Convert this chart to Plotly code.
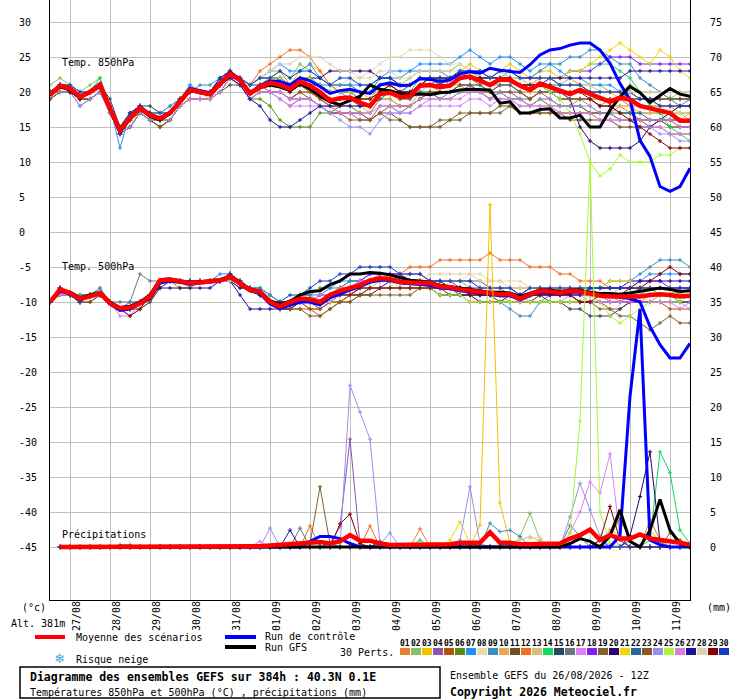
# -*- coding: utf-8 -*-

import pandas as pd
import plotly.graph_objs as go

MONO = "DejaVu Sans Mono"
GRID = "#c0c0c0"

# run 26/08/2026 12Z, 6h steps up to 384h
TIMES = pd.date_range("2026-08-26 12:00", periods=65, freq="6h")

PERT_NAMES = ["%02d" % k for k in range(1, 31)]
PERT_COLORS = ["#e6822e", "#86c065", "#f2c200", "#8a55b0", "#b5520c", "#5a8a10",
               "#1e90ff", "#e8d8b0", "#3c8dc0", "#e8a850", "#6a5220", "#f07020",
               "#d4c07c", "#10d860", "#284860", "#687880", "#e080f8", "#8020f8",
               "#806030", "#300070", "#f0d800", "#2868a0", "#905820", "#9890f0",
               "#a8f838", "#d880d8", "#2010a0", "#e0d0b0", "#880000", "#1040c0"]

# --- Temp. 850hPa ---
MEAN_T850 = [19.6, 20.9, 20.5, 19.3, 20.0, 21.0, 17.7, 14.5, 16.3, 17.7,
             16.7, 16.2, 17.0, 18.6, 20.3, 20.0, 19.7, 21.2, 22.6, 21.7,
             19.8, 20.7, 21.3, 21.0, 20.4, 21.5, 20.9, 20.0, 18.8, 19.1,
             19.2, 18.5, 18.0, 19.7, 19.9, 19.3, 19.4, 20.9, 21.0, 20.7,
             20.9, 22.0, 22.2, 21.6, 21.0, 21.8, 21.7, 20.9, 20.3, 21.2,
             20.7, 20.2, 19.7, 20.3, 19.7, 19.1, 18.6, 19.2, 18.9, 18.0,
             17.7, 17.4, 17.0, 15.9, 15.9]
CTRL_T850 = [19.6, 21.0, 20.6, 19.4, 20.1, 21.2, 17.6, 14.2, 16.4, 17.9,
             16.8, 16.3, 17.1, 18.7, 20.5, 20.2, 19.9, 21.4, 22.8, 21.8,
             19.9, 20.9, 21.6, 21.5, 21.0, 22.0, 21.6, 20.8, 19.8, 20.2,
             20.4, 20.0, 19.8, 21.0, 21.3, 20.9, 21.0, 21.9, 21.8, 21.5,
             21.7, 22.6, 22.9, 22.7, 23.4, 23.1, 23.0, 22.8, 23.9, 25.3,
             26.0, 26.2, 26.7, 27.0, 27.0, 26.0, 24.1, 21.2, 18.9, 13.1,
             10.8, 6.5, 5.8, 6.5, 9.1]
GFS_T850 = [19.5, 20.7, 20.3, 19.2, 19.9, 20.8, 17.5, 14.3, 16.2, 17.6,
            16.5, 16.0, 16.9, 18.5, 20.2, 19.9, 19.6, 21.0, 22.5, 21.6,
            19.7, 20.6, 21.0, 20.7, 20.2, 21.2, 20.4, 19.4, 18.6, 18.2,
            18.8, 19.4, 21.0, 20.4, 20.2, 19.8, 19.6, 19.7, 19.6, 19.9,
            20.0, 20.3, 20.4, 20.3, 20.3, 18.4, 18.6, 17.0, 17.0, 17.5,
            17.6, 16.3, 16.3, 16.7, 15.0, 15.0, 17.4, 19.3, 20.8, 19.9,
            18.5, 19.5, 20.5, 19.7, 19.4]

T850_P01 = [20, 21, 21, 19, 20, 21, 18, 15, 16, 18, 17, 16, 17, 19, 20, 20, 20, 21, 22, 22,
            21, 22, 22, 23, 21, 22, 22, 21, 20, 20, 20, 19, 19, 21, 21, 20, 20, 21, 21, 20,
            20, 21, 20, 20, 19, 20, 19, 19, 18, 19, 19, 18, 18, 19, 18, 17, 17, 18, 17, 16,
            16, 16, 15, 15, 15]
T850_P02 = [21, 22, 21, 20, 21, 22, 18, 15, 17, 18, 17, 17, 18, 19, 21, 20, 20, 21, 23, 22,
            21, 22, 23, 23, 22, 24, 23, 22, 21, 21, 21, 20, 20, 22, 22, 21, 22, 23, 23, 23,
            23, 24, 23, 23, 22, 23, 23, 22, 22, 22, 22, 21, 22, 21, 21, 21, 20, 20, 21, 20,
            20, 20, 19, 20, 20]
T850_P03 = [20, 21, 20, 19, 20, 21, 18, 14, 16, 17, 16, 16, 17, 18, 20, 20, 19, 21, 23, 22,
            20, 21, 22, 22, 21, 23, 24, 23, 21, 20, 20, 20, 19, 20, 21, 20, 19, 21, 22, 21,
            22, 23, 24, 23, 22, 23, 24, 23, 22, 23, 23, 22, 22, 21, 21, 20, 20, 19, 20, 19,
            19, 18, 18, 17, 16]
T850_P04 = [19, 20, 20, 18, 19, 20, 17, 14, 15, 17, 16, 15, 16, 18, 19, 19, 19, 21, 22, 21,
            19, 20, 20, 19, 18, 19, 19, 18, 17, 17, 17, 17, 16, 18, 18, 17, 18, 19, 20, 19,
            20, 20, 21, 20, 19, 20, 20, 19, 19, 20, 19, 18, 18, 18, 17, 17, 17, 16, 16, 16,
            16, 16, 16, 16, 16]
T850_P05 = [20, 21, 21, 20, 20, 21, 18, 15, 16, 18, 17, 16, 17, 19, 20, 20, 20, 21, 22, 22,
            20, 21, 21, 22, 21, 21, 20, 19, 18, 18, 19, 18, 18, 20, 20, 19, 20, 21, 21, 22,
            21, 22, 22, 21, 20, 21, 21, 20, 19, 20, 20, 19, 19, 19, 19, 18, 18, 17, 17, 16,
            15, 15, 14, 14, 14]
T850_P06 = [20, 21, 20, 19, 19, 20, 18, 15, 16, 17, 16, 15, 16, 18, 19, 19, 19, 20, 22, 21,
            19, 19, 18, 16, 15, 15, 15, 17, 17, 18, 18, 17, 17, 19, 19, 18, 18, 19, 20, 19,
            19, 20, 20, 20, 19, 20, 19, 19, 18, 19, 18, 18, 18, 18, 17, 17, 17, 17, 17, 17,
            17, 17, 17, 17, 17]
T850_P07 = [20, 21, 21, 20, 20, 21, 18, 12, 17, 18, 17, 17, 18, 19, 21, 20, 20, 22, 23, 22,
            21, 22, 23, 24, 23, 23, 24, 22, 21, 21, 21, 20, 20, 22, 23, 23, 23, 24, 24, 24,
            24, 25, 26, 25, 24, 25, 25, 24, 23, 24, 24, 23, 22, 22, 21, 21, 21, 20, 20, 19,
            19, 18, 18, 18, 18]
T850_P08 = [20, 20, 20, 19, 20, 21, 18, 14, 16, 18, 17, 17, 17, 19, 20, 20, 20, 21, 23, 22,
            20, 21, 22, 22, 21, 22, 22, 21, 20, 21, 22, 22, 23, 24, 25, 25, 26, 26, 26, 25,
            24, 24, 23, 22, 21, 22, 22, 21, 20, 21, 21, 20, 20, 20, 20, 19, 19, 19, 19, 18,
            18, 18, 17, 17, 17]
T850_P09 = [20, 21, 20, 19, 20, 21, 18, 14, 16, 18, 17, 16, 17, 19, 20, 21, 21, 22, 23, 22,
            21, 22, 22, 22, 21, 22, 22, 21, 21, 21, 21, 21, 21, 22, 22, 22, 23, 23, 23, 23,
            22, 23, 23, 23, 22, 23, 22, 22, 22, 23, 24, 24, 25, 25, 26, 26, 25, 24, 24, 22,
            21, 20, 19, 19, 19]
T850_P10 = [20, 20, 20, 19, 19, 20, 17, 14, 15, 17, 16, 16, 16, 18, 19, 19, 19, 20, 22, 21,
            19, 20, 20, 20, 19, 20, 20, 19, 18, 18, 18, 18, 17, 19, 19, 18, 18, 20, 20, 20,
            20, 21, 21, 21, 20, 21, 21, 20, 19, 20, 20, 19, 19, 19, 19, 18, 18, 18, 18, 17,
            17, 17, 17, 16, 17]
T850_P11 = [19, 20, 20, 19, 19, 20, 17, 14, 15, 17, 16, 15, 16, 18, 19, 19, 19, 20, 21, 21,
            19, 20, 20, 20, 19, 20, 19, 18, 17, 17, 17, 16, 16, 17, 17, 16, 15, 15, 15, 15,
            16, 16, 17, 17, 17, 18, 18, 17, 17, 17, 17, 17, 16, 16, 16, 16, 16, 15, 15, 15,
            15, 16, 15, 15, 15]
T850_P12 = [20, 21, 21, 20, 20, 21, 18, 15, 17, 18, 17, 17, 17, 19, 20, 20, 20, 21, 23, 22,
            21, 23, 24, 25, 26, 26, 25, 23, 21, 20, 20, 19, 19, 20, 20, 20, 20, 21, 22, 21,
            21, 22, 22, 22, 21, 21, 21, 20, 20, 20, 20, 19, 19, 19, 19, 18, 19, 19, 18, 18,
            18, 18, 18, 18, 18]
T850_P13 = [20, 21, 20, 19, 20, 21, 18, 14, 16, 18, 17, 16, 17, 19, 20, 20, 20, 21, 22, 22,
            20, 21, 21, 21, 20, 21, 21, 20, 19, 19, 19, 18, 18, 20, 20, 19, 19, 20, 21, 21,
            21, 21, 21, 21, 20, 21, 21, 20, 20, 20, 20, 19, 19, 19, 19, 18, 18, 18, 18, 17,
            17, 17, 16, 16, 16]
T850_P14 = [20, 21, 21, 20, 20, 22, 18, 15, 16, 18, 17, 17, 17, 19, 20, 20, 20, 21, 23, 22,
            20, 21, 22, 22, 21, 22, 22, 21, 20, 20, 20, 19, 19, 21, 21, 20, 20, 22, 22, 22,
            22, 23, 23, 22, 22, 22, 23, 22, 21, 22, 22, 22, 23, 23, 24, 24, 24, 23, 22, 20,
            18, 17, 15, 14, 13]
T850_P15 = [20, 21, 21, 20, 20, 21, 19, 15, 17, 18, 18, 17, 17, 19, 20, 20, 20, 22, 23, 22,
            21, 21, 22, 22, 21, 21, 22, 21, 20, 20, 20, 19, 19, 20, 21, 20, 21, 22, 22, 21,
            22, 22, 22, 22, 22, 22, 22, 21, 21, 22, 22, 21, 21, 21, 20, 20, 20, 20, 20, 19,
            19, 19, 19, 19, 19]
T850_P16 = [20, 21, 20, 19, 20, 21, 18, 14, 16, 18, 17, 16, 17, 19, 20, 20, 20, 21, 22, 22,
            20, 21, 22, 22, 21, 21, 22, 21, 20, 20, 19, 19, 19, 21, 21, 20, 20, 21, 22, 22,
            22, 22, 22, 22, 21, 22, 22, 21, 21, 21, 21, 21, 21, 21, 20, 20, 20, 20, 20, 19,
            19, 19, 19, 18, 19]
T850_P17 = [20, 21, 20, 19, 20, 21, 18, 14, 16, 18, 17, 16, 17, 18, 19, 19, 19, 20, 22, 21,
            19, 20, 20, 19, 18, 18, 18, 18, 17, 17, 17, 16, 16, 17, 17, 17, 17, 18, 18, 18,
            18, 18, 19, 19, 18, 19, 19, 18, 18, 18, 18, 17, 17, 17, 17, 16, 16, 16, 16, 15,
            15, 15, 14, 14, 14]
T850_P18 = [20, 21, 20, 19, 20, 21, 18, 14, 16, 18, 17, 16, 17, 19, 20, 20, 20, 21, 23, 22,
            20, 21, 21, 22, 21, 21, 21, 21, 20, 20, 20, 19, 19, 21, 21, 21, 21, 22, 22, 22,
            22, 22, 23, 23, 22, 23, 23, 22, 22, 22, 22, 22, 23, 23, 23, 24, 25, 25, 25, 24,
            24, 24, 24, 24, 24]
T850_P19 = [20, 20, 20, 19, 19, 20, 17, 14, 15, 17, 16, 15, 16, 18, 19, 19, 19, 20, 22, 21,
            19, 20, 20, 20, 19, 19, 19, 18, 17, 17, 17, 17, 16, 17, 16, 16, 15, 15, 15, 16,
            16, 17, 17, 17, 17, 17, 18, 17, 17, 17, 17, 17, 17, 17, 17, 17, 17, 16, 16, 16,
            16, 16, 16, 16, 16]
T850_P20 = [20, 21, 20, 19, 20, 21, 18, 14, 16, 18, 17, 16, 17, 19, 20, 20, 20, 21, 22, 22,
            20, 21, 21, 21, 21, 22, 22, 22, 23, 23, 23, 23, 23, 22, 22, 21, 21, 22, 22, 22,
            22, 23, 23, 22, 22, 22, 22, 21, 21, 21, 20, 20, 19, 15, 13, 12, 12, 12, 12, 13,
            15, 16, 17, 18, 18]
T850_P21 = [20, 21, 20, 19, 20, 21, 18, 14, 16, 18, 17, 16, 17, 19, 20, 20, 20, 21, 23, 22,
            20, 21, 21, 21, 20, 21, 21, 20, 19, 19, 19, 18, 18, 20, 20, 19, 19, 21, 21, 21,
            21, 22, 23, 22, 21, 22, 22, 22, 21, 22, 22, 22, 23, 23, 24, 25, 26, 27, 26, 25,
            24, 26, 25, 23, 22]
T850_P22 = [20, 21, 20, 19, 20, 21, 18, 14, 16, 18, 17, 16, 17, 19, 20, 20, 20, 21, 22, 22,
            20, 21, 21, 21, 20, 21, 21, 20, 19, 19, 19, 18, 18, 19, 20, 19, 19, 20, 20, 20,
            20, 21, 21, 21, 20, 21, 21, 20, 19, 20, 20, 19, 19, 19, 19, 18, 18, 17, 17, 17,
            16, 16, 16, 15, 15]
T850_P23 = [19, 20, 20, 19, 19, 20, 17, 14, 15, 17, 16, 16, 16, 18, 19, 19, 19, 20, 22, 21,
            20, 21, 20, 20, 19, 20, 20, 19, 18, 17, 16, 16, 16, 17, 18, 18, 18, 19, 20, 20,
            20, 21, 21, 20, 20, 20, 20, 20, 19, 20, 20, 19, 19, 19, 19, 19, 19, 19, 19, 19,
            19, 19, 19, 19, 19]
T850_P24 = [20, 20, 20, 18, 19, 20, 17, 14, 15, 17, 16, 16, 16, 18, 19, 19, 19, 20, 22, 21,
            19, 20, 20, 20, 19, 19, 19, 18, 17, 16, 15, 15, 14, 16, 17, 17, 17, 18, 19, 19,
            19, 20, 20, 20, 19, 20, 19, 19, 18, 19, 19, 18, 18, 18, 18, 17, 17, 16, 16, 15,
            15, 14, 14, 13, 13]
T850_P25 = [20, 21, 21, 20, 20, 21, 18, 15, 16, 18, 17, 17, 17, 19, 20, 20, 20, 21, 23, 22,
            20, 21, 22, 22, 21, 22, 22, 21, 20, 20, 20, 19, 19, 21, 21, 21, 21, 22, 22, 22,
            22, 22, 23, 22, 21, 22, 22, 21, 21, 21, 20, 19, 17, 14, 10, 8, 9, 11, 10, 10,
            10, 11, 11, 12, 12]
T850_P26 = [20, 21, 20, 19, 20, 21, 18, 14, 16, 18, 17, 16, 17, 18, 19, 19, 19, 20, 22, 21,
            19, 20, 20, 20, 19, 19, 19, 18, 18, 17, 17, 17, 17, 18, 18, 18, 18, 19, 19, 19,
            19, 19, 20, 20, 19, 19, 19, 18, 18, 18, 18, 17, 17, 17, 17, 16, 16, 16, 16, 16,
            16, 16, 16, 15, 15]
T850_P27 = [20, 21, 20, 19, 20, 21, 18, 14, 16, 18, 17, 16, 17, 19, 20, 20, 20, 21, 22, 21,
            19, 18, 16, 15, 15, 16, 17, 18, 18, 18, 18, 18, 18, 20, 20, 20, 20, 21, 21, 21,
            21, 22, 22, 22, 21, 22, 22, 21, 21, 21, 22, 22, 22, 22, 22, 22, 22, 22, 23, 23,
            23, 23, 23, 23, 23]
T850_P28 = [20, 21, 21, 20, 20, 21, 18, 15, 16, 18, 17, 17, 17, 19, 20, 20, 20, 21, 23, 22,
            21, 22, 23, 24, 24, 25, 25, 25, 24, 23, 23, 22, 22, 23, 23, 22, 22, 23, 23, 23,
            23, 23, 23, 23, 22, 23, 22, 22, 21, 22, 22, 21, 21, 21, 21, 20, 20, 20, 20, 20,
            20, 20, 20, 20, 20]
T850_P29 = [20, 21, 20, 19, 20, 21, 18, 15, 16, 18, 17, 16, 17, 19, 20, 20, 20, 21, 23, 22,
            20, 21, 21, 21, 20, 21, 21, 20, 19, 19, 19, 19, 19, 20, 21, 20, 20, 21, 22, 22,
            22, 22, 22, 22, 21, 22, 22, 21, 21, 21, 21, 20, 20, 20, 19, 18, 18, 17, 16, 15,
            14, 13, 12, 12, 12]
T850_P30 = [20, 21, 21, 20, 20, 21, 18, 15, 17, 18, 17, 17, 17, 19, 20, 20, 20, 22, 23, 22,
            21, 22, 22, 23, 22, 23, 23, 22, 21, 22, 22, 21, 21, 22, 22, 21, 21, 22, 22, 22,
            22, 23, 23, 23, 22, 23, 23, 22, 22, 22, 22, 21, 21, 21, 20, 20, 20, 20, 19, 19,
            19, 18, 18, 18, 18]

# --- Temp. 500hPa ---
MEAN_T500 = [-10.0, -8.2, -8.7, -9.5, -9.2, -8.7, -10.2, -10.9, -10.8, -10.2,
             -9.2, -6.9, -6.8, -7.0, -7.3, -7.2, -7.0, -6.9, -6.4, -7.3,
             -8.3, -8.5, -10.0, -10.6, -10.1, -9.5, -9.6, -10.0, -9.0, -8.4,
             -8.0, -7.6, -6.9, -6.6, -6.7, -7.1, -7.2, -7.2, -7.3, -7.8,
             -7.9, -8.2, -8.4, -8.5, -8.8, -8.9, -8.9, -9.5, -8.9, -8.4,
             -8.5, -8.7, -8.4, -8.5, -8.8, -9.1, -9.2, -9.2, -9.2, -9.2,
             -9.0, -8.9, -9.0, -9.2, -9.1]
CTRL_T500 = [-10.0, -8.5, -8.8, -9.6, -9.3, -8.8, -10.3, -11.2, -11.0, -10.3,
             -9.5, -7.3, -7.0, -7.2, -7.5, -7.3, -7.1, -7.0, -6.5, -7.4,
             -8.4, -8.8, -10.3, -10.9, -10.5, -10.0, -10.0, -10.4, -9.4, -8.8,
             -8.3, -7.8, -7.2, -6.9, -6.9, -7.3, -7.4, -7.5, -7.6, -8.0,
             -8.1, -8.4, -8.6, -8.8, -9.0, -9.1, -9.1, -9.7, -9.1, -8.6,
             -8.7, -8.9, -8.6, -8.6, -8.8, -9.0, -9.2, -9.4, -9.5, -10.0,
             -13.5, -16.1, -18.0, -18.0, -15.9]
GFS_T500 = [-10.0, -8.3, -8.6, -9.4, -9.0, -8.6, -10.0, -10.8, -10.6, -10.0,
            -9.0, -6.8, -6.7, -6.9, -7.2, -7.1, -6.9, -6.8, -6.3, -7.2,
            -8.2, -8.4, -9.8, -10.3, -9.9, -9.0, -8.5, -8.4, -7.5, -7.0,
            -6.0, -6.0, -5.8, -5.9, -6.1, -6.5, -6.9, -7.0, -7.2, -7.6,
            -7.8, -8.0, -8.2, -8.3, -8.6, -8.6, -8.7, -9.2, -8.8, -8.3,
            -8.3, -8.5, -8.3, -8.3, -8.6, -8.8, -8.8, -8.9, -8.7, -8.5,
            -8.2, -8.0, -8.2, -8.5, -8.4]

T500_P01 = [-10, -8, -9, -10, -9, -9, -10, -11, -11, -10, -9, -7, -7, -7, -7, -7, -7, -7, -6, -7,
            -8, -9, -10, -11, -10, -10, -10, -9, -9, -8, -8, -7, -7, -7, -6, -6, -7, -7, -7, -8,
            -8, -8, -8, -9, -9, -9, -9, -10, -9, -9, -9, -9, -9, -9, -9, -9, -9, -9, -9, -10,
            -10, -9, -9, -9, -8]
T500_P02 = [-10, -8, -9, -9, -9, -8, -10, -11, -10, -10, -9, -7, -7, -8, -8, -7, -7, -7, -7, -8,
            -8, -8, -9, -10, -10, -9, -9, -10, -9, -8, -8, -8, -7, -6, -6, -7, -7, -7, -7, -7,
            -8, -8, -9, -9, -9, -9, -10, -10, -10, -9, -9, -9, -9, -10, -10, -9, -9, -10, -10, -10,
            -9, -9, -9, -10, -10]
T500_P03 = [-10, -8, -9, -10, -9, -8, -10, -11, -11, -10, -9, -7, -7, -8, -8, -7, -7, -7, -6, -7,
            -8, -9, -10, -11, -11, -10, -10, -10, -9, -9, -9, -8, -8, -7, -7, -7, -6, -6, -7, -7,
            -8, -8, -8, -8, -8, -9, -9, -9, -9, -8, -8, -8, -8, -8, -9, -9, -9, -8, -8, -8,
            -8, -8, -8, -9, -9]
T500_P04 = [-10, -8, -9, -10, -9, -9, -10, -11, -11, -10, -9, -7, -7, -7, -7, -7, -7, -7, -6, -7,
            -8, -9, -10, -11, -10, -10, -10, -10, -9, -8, -7, -7, -6, -6, -6, -6, -6, -6, -7, -7,
            -7, -7, -7, -7, -8, -8, -8, -8, -8, -8, -8, -8, -8, -8, -8, -8, -8, -8, -8, -8,
            -8, -8, -8, -8, -8]
T500_P05 = [-10, -9, -9, -10, -10, -9, -10, -11, -11, -11, -10, -8, -7, -8, -8, -7, -7, -7, -7, -7,
            -8, -9, -10, -11, -11, -11, -11, -12, -11, -10, -10, -9, -9, -8, -8, -8, -8, -8, -8, -9,
            -9, -9, -10, -10, -10, -10, -10, -10, -10, -10, -10, -10, -10, -10, -10, -10, -11, -11, -10, -10,
            -10, -10, -11, -11, -11]
T500_P06 = [-10, -8, -9, -9, -9, -9, -10, -11, -11, -10, -9, -7, -7, -7, -7, -7, -7, -7, -6, -7,
            -8, -8, -9, -10, -10, -9, -9, -8, -8, -8, -7, -7, -7, -6, -6, -6, -7, -7, -7, -8,
            -8, -8, -8, -8, -8, -8, -9, -9, -9, -9, -9, -8, -8, -8, -8, -9, -9, -9, -9, -9,
            -9, -9, -9, -8, -8]
T500_P07 = [-10, -8, -9, -9, -9, -8, -10, -11, -10, -10, -9, -7, -7, -7, -7, -7, -7, -6, -6, -7,
            -8, -8, -9, -10, -10, -9, -9, -9, -8, -7, -7, -7, -6, -6, -6, -7, -7, -7, -7, -7,
            -7, -7, -8, -8, -8, -8, -8, -9, -9, -8, -8, -8, -8, -8, -8, -8, -7, -7, -7, -7,
            -6, -6, -6, -6, -6]
T500_P08 = [-10, -8, -9, -10, -9, -9, -10, -11, -11, -10, -9, -7, -7, -7, -7, -7, -7, -7, -7, -7,
            -8, -9, -10, -10, -10, -10, -10, -10, -9, -9, -9, -8, -8, -8, -7, -7, -7, -7, -7, -7,
            -7, -7, -6, -6, -7, -7, -7, -7, -8, -8, -8, -8, -8, -8, -8, -8, -9, -9, -9, -9,
            -9, -9, -9, -9, -9]
T500_P09 = [-10, -8, -9, -10, -9, -9, -10, -11, -11, -10, -9, -7, -7, -7, -8, -7, -7, -7, -6, -7,
            -8, -9, -10, -10, -10, -10, -10, -10, -9, -8, -8, -8, -7, -7, -7, -7, -7, -7, -7, -8,
            -8, -8, -9, -9, -9, -10, -11, -12, -12, -10, -9, -9, -9, -9, -8, -8, -8, -8, -7, -6,
            -5, -4, -4, -4, -5]
T500_P10 = [-10, -8, -9, -10, -9, -9, -10, -11, -11, -10, -9, -7, -7, -7, -7, -7, -7, -7, -6, -7,
            -8, -9, -10, -11, -11, -10, -10, -10, -10, -10, -9, -9, -8, -8, -8, -8, -8, -8, -8, -8,
            -8, -8, -9, -9, -9, -9, -9, -9, -9, -9, -9, -9, -9, -9, -9, -9, -9, -10, -10, -10,
            -9, -9, -9, -9, -9]
T500_P11 = [-10, -9, -9, -10, -10, -9, -10, -11, -11, -11, -10, -8, -7, -7, -7, -7, -7, -7, -7, -7,
            -8, -9, -10, -11, -11, -10, -10, -11, -10, -9, -9, -9, -9, -8, -8, -8, -8, -8, -8, -8,
            -9, -9, -9, -9, -9, -9, -9, -10, -10, -9, -9, -9, -9, -9, -9, -9, -10, -10, -9, -9,
            -9, -9, -9, -9, -9]
T500_P12 = [-10, -8, -9, -10, -9, -9, -10, -11, -11, -10, -9, -7, -7, -7, -7, -7, -7, -7, -6, -7,
            -8, -9, -10, -11, -11, -10, -11, -11, -10, -10, -9, -8, -7, -7, -6, -6, -5, -5, -5, -4,
            -4, -4, -4, -4, -3, -4, -4, -4, -5, -5, -5, -6, -6, -7, -7, -7, -8, -8, -8, -8,
            -8, -8, -8, -8, -8]
T500_P13 = [-10, -8, -9, -10, -9, -9, -10, -11, -11, -10, -9, -7, -7, -7, -8, -7, -7, -7, -7, -7,
            -8, -9, -10, -10, -10, -10, -10, -10, -9, -9, -9, -9, -8, -8, -8, -8, -8, -8, -8, -8,
            -9, -9, -9, -9, -9, -9, -9, -10, -9, -9, -9, -9, -9, -9, -9, -10, -10, -10, -10, -9,
            -9, -9, -9, -10, -10]
T500_P14 = [-10, -8, -9, -9, -9, -9, -10, -11, -11, -10, -9, -7, -7, -7, -7, -7, -7, -7, -6, -7,
            -8, -9, -10, -10, -10, -10, -10, -10, -9, -8, -8, -8, -7, -7, -7, -7, -7, -7, -7, -8,
            -8, -8, -8, -9, -9, -9, -9, -9, -9, -8, -8, -8, -8, -8, -9, -9, -9, -9, -9, -8,
            -8, -9, -9, -10, -10]
T500_P15 = [-10, -8, -9, -10, -9, -9, -10, -11, -11, -10, -9, -7, -7, -7, -7, -7, -7, -7, -6, -7,
            -8, -9, -10, -10, -10, -10, -10, -10, -9, -8, -8, -7, -7, -7, -7, -7, -7, -7, -8, -8,
            -8, -9, -9, -9, -9, -9, -9, -9, -9, -9, -10, -10, -11, -11, -12, -12, -12, -11, -10, -9,
            -9, -9, -9, -9, -9]
T500_P16 = [-10, -8, -9, -10, -9, -9, -10, -10, -10, -6, -7, -7, -7, -7, -7, -7, -7, -7, -6, -7,
            -8, -9, -10, -10, -10, -10, -10, -10, -9, -8, -8, -7, -7, -7, -7, -7, -7, -7, -7, -8,
            -8, -8, -8, -9, -9, -9, -9, -9, -8, -8, -8, -8, -8, -8, -8, -9, -9, -9, -9, -9,
            -8, -8, -8, -8, -8]
T500_P17 = [-10, -9, -9, -10, -9, -9, -10, -12, -12, -11, -9, -7, -7, -7, -7, -7, -7, -7, -7, -7,
            -8, -9, -10, -11, -10, -10, -10, -10, -9, -8, -8, -7, -7, -6, -6, -7, -7, -7, -7, -8,
            -8, -8, -9, -9, -9, -9, -9, -9, -10, -10, -10, -10, -9, -9, -9, -9, -10, -10, -10, -10,
            -10, -10, -10, -10, -11]
T500_P18 = [-10, -8, -9, -10, -9, -9, -10, -11, -11, -10, -9, -7, -7, -7, -7, -7, -7, -7, -6, -7,
            -8, -9, -10, -10, -10, -10, -10, -9, -9, -8, -8, -7, -6, -6, -6, -6, -7, -7, -7, -7,
            -7, -8, -8, -8, -8, -8, -8, -9, -8, -8, -8, -8, -8, -8, -8, -8, -8, -8, -7, -7,
            -7, -7, -8, -8, -8]
T500_P19 = [-10, -8, -9, -10, -9, -9, -10, -11, -11, -10, -9, -7, -7, -7, -7, -7, -7, -7, -6, -7,
            -8, -9, -10, -11, -11, -11, -12, -12, -11, -10, -10, -9, -9, -9, -9, -9, -9, -8, -8, -8,
            -9, -9, -9, -9, -9, -10, -10, -10, -10, -10, -10, -10, -10, -10, -10, -11, -11, -12, -12, -13,
            -14, -13, -12, -13, -13]
T500_P20 = [-10, -8, -9, -10, -9, -9, -10, -11, -11, -10, -9, -7, -7, -7, -7, -7, -7, -7, -7, -8,
            -8, -9, -10, -11, -11, -10, -10, -10, -10, -9, -9, -9, -8, -8, -8, -8, -8, -8, -8, -9,
            -9, -9, -9, -10, -10, -10, -9, -9, -9, -9, -9, -9, -9, -10, -10, -10, -10, -10, -10, -10,
            -10, -10, -10, -10, -10]
T500_P21 = [-10, -8, -9, -10, -9, -9, -10, -11, -11, -10, -9, -7, -7, -8, -8, -7, -7, -7, -7, -7,
            -8, -9, -10, -10, -10, -10, -10, -10, -9, -9, -8, -8, -7, -7, -7, -7, -7, -7, -7, -7,
            -7, -7, -8, -8, -8, -8, -8, -8, -8, -8, -8, -8, -8, -8, -8, -8, -7, -7, -7, -8,
            -8, -8, -8, -9, -9]
T500_P22 = [-10, -8, -9, -10, -9, -9, -10, -11, -11, -10, -9, -7, -7, -7, -7, -7, -7, -7, -6, -7,
            -8, -9, -10, -10, -10, -10, -10, -10, -9, -9, -8, -8, -7, -7, -7, -7, -7, -7, -8, -8,
            -8, -8, -8, -9, -9, -9, -9, -9, -9, -8, -8, -9, -9, -9, -9, -9, -9, -9, -9, -9,
            -9, -9, -9, -9, -9]
T500_P23 = [-10, -8, -9, -10, -9, -9, -10, -11, -11, -10, -9, -7, -7, -7, -7, -7, -7, -7, -6, -7,
            -8, -9, -10, -11, -11, -10, -11, -11, -10, -10, -9, -9, -8, -8, -8, -8, -8, -8, -8, -8,
            -8, -8, -9, -9, -9, -9, -9, -9, -9, -9, -9, -9, -9, -9, -9, -9, -9, -9, -9, -8,
            -8, -8, -8, -9, -9]
T500_P24 = [-10, -8, -9, -10, -9, -9, -10, -11, -11, -10, -9, -7, -7, -7, -7, -7, -7, -7, -7, -7,
            -8, -9, -10, -10, -10, -10, -10, -10, -9, -8, -8, -8, -7, -7, -7, -7, -7, -7, -8, -8,
            -8, -8, -8, -8, -9, -9, -9, -9, -9, -9, -9, -9, -9, -9, -9, -10, -10, -10, -9, -9,
            -9, -9, -9, -9, -9]
T500_P25 = [-10, -8, -9, -10, -9, -9, -10, -11, -11, -10, -9, -7, -7, -7, -7, -7, -7, -7, -6, -7,
            -8, -9, -10, -11, -10, -10, -10, -10, -9, -9, -9, -8, -8, -7, -7, -8, -8, -8, -8, -9,
            -9, -9, -10, -10, -10, -10, -10, -10, -10, -10, -10, -10, -10, -10, -9, -10, -12, -13, -12, -11,
            -10, -10, -10, -10, -9]
T500_P26 = [-10, -8, -9, -10, -9, -9, -10, -11, -12, -10, -9, -7, -7, -7, -7, -7, -7, -7, -6, -7,
            -8, -9, -10, -10, -10, -10, -10, -9, -9, -8, -8, -7, -7, -7, -7, -7, -7, -7, -7, -8,
            -8, -8, -8, -8, -8, -9, -9, -10, -9, -9, -9, -9, -9, -9, -10, -10, -10, -10, -10, -10,
            -10, -10, -10, -11, -10]
T500_P27 = [-10, -8, -9, -10, -9, -9, -10, -11, -11, -10, -9, -8, -8, -8, -8, -8, -8, -7, -7, -9,
            -11, -11, -11, -11, -10, -10, -10, -10, -9, -9, -9, -8, -8, -8, -7, -7, -7, -7, -7, -7,
            -8, -8, -8, -9, -9, -9, -9, -9, -9, -9, -9, -9, -9, -9, -8, -8, -8, -8, -8, -7,
            -7, -7, -7, -7, -7]
T500_P28 = [-10, -8, -9, -10, -9, -9, -10, -11, -11, -10, -9, -7, -7, -7, -7, -7, -7, -7, -7, -7,
            -8, -9, -10, -10, -10, -10, -10, -10, -10, -9, -9, -8, -8, -8, -8, -8, -7, -7, -6, -6,
            -6, -6, -6, -7, -7, -7, -8, -8, -8, -8, -8, -8, -8, -8, -9, -9, -9, -9, -9, -9,
            -9, -9, -9, -9, -9]
T500_P29 = [-10, -8, -9, -10, -9, -9, -10, -11, -12, -11, -9, -7, -7, -7, -7, -7, -7, -7, -6, -7,
            -8, -9, -10, -10, -10, -10, -10, -10, -9, -9, -9, -8, -8, -8, -8, -8, -8, -8, -8, -8,
            -8, -8, -9, -9, -9, -9, -9, -9, -9, -9, -9, -9, -9, -10, -10, -9, -9, -9, -8, -8,
            -7, -6, -5, -6, -6]
T500_P30 = [-10, -8, -9, -10, -9, -9, -10, -11, -11, -10, -9, -7, -7, -7, -7, -7, -7, -7, -6, -7,
            -8, -9, -10, -10, -9, -9, -8, -7, -7, -6, -6, -5, -5, -5, -5, -6, -6, -6, -7, -7,
            -7, -7, -7, -8, -8, -8, -8, -9, -8, -8, -8, -8, -8, -8, -8, -8, -8, -8, -8, -8,
            -8, -8, -8, -8, -8]

# --- Précipitations (mm / 6h), first step has no value ---
MEAN_RR = [None, 0, 0, 0, 0, 0, 0.1, 0.1, 0, 0,
           0, 0, 0, 0, 0, 0, 0, 0, 0, 0,
           0, 0.1, 0.2, 0.3, 0.3, 0.4, 0.6, 0.7, 0.5, 0.8,
           1.7, 0.9, 0.9, 0.5, 0.3, 0.3, 0.3, 0.4, 0.3, 0.3,
           0.4, 0.6, 0.6, 0.6, 2.1, 0.6, 0.6, 0.4, 0.4, 0.4,
           0.4, 0.5, 1.2, 1.7, 2.5, 1.0, 1.7, 1.2, 1.2, 1.8,
           1.2, 1.0, 0.9, 0.6, 0.3]
# only the steps where rain was drawn, everything else is 0 mm
CTRL_RR = {26: 0.8, 27: 1.5, 28: 1.5, 29: 1.2, 30: 0.5, 57: 1.6, 58: 21.5, 59: 34.0, 60: 1.0, 61: 0.3}
GFS_RR = {52: 0.5, 53: 1.2, 54: 0.8, 56: 1.6, 57: 5.3, 58: 0.8, 60: 2.4, 61: 6.8, 62: 2.4, 63: 0.5}
RR_P01 = {37: 2.6, 60: 3.9, 61: 1.0}
RR_P02 = {47: 1.5, 48: 4.8, 49: 1.0}
RR_P03 = {43: 3.1, 44: 48.9, 45: 6.3, 46: 0.5}
RR_P04 = {28: 0.5, 29: 2.9, 30: 15.4, 31: 0.3}
RR_P05 = {62: 2.0, 63: 1.0}
RR_P06 = {7: 0.3, 8: 0.3}
RR_P07 = {}
RR_P08 = {48: 1.2, 49: 1.4}
RR_P09 = {44: 3.4, 45: 2.2, 46: 2.4, 47: 1.5}
RR_P10 = {56: 2.5, 57: 1.6}
RR_P11 = {}
RR_P12 = {26: 3.0, 32: 3.0}
RR_P13 = {47: 1.0, 48: 1.5, 49: 0.8}
RR_P14 = {37: 1.0, 60: 1.0, 61: 13.6, 62: 10.6, 63: 2.4, 64: 0.5}
RR_P15 = {58: 1.0}
RR_P16 = {25: 2.7, 52: 3.1, 53: 1.5}
RR_P17 = {52: 2.0, 53: 5.0, 54: 9.3, 55: 7.7, 56: 13.3, 57: 1.5}
RR_P18 = {55: 1.0}
RR_P19 = {26: 0.5, 27: 8.6, 28: 0.5}
RR_P20 = {33: 0.8, 58: 1.6, 59: 7.2, 60: 13.6, 61: 0.7}
RR_P21 = {40: 1.0, 41: 3.6, 42: 0.5, 60: 2.4, 61: 0.8}
RR_P22 = {}
RR_P23 = {56: 1.5, 57: 4.1, 58: 1.0}
RR_P24 = {22: 2.7, 30: 23.1, 31: 19.3, 32: 15.4, 33: 0.4, 34: 2.0, 41: 1.0, 42: 8.6, 43: 0.5,
          52: 4.3, 53: 9.1, 54: 5.3, 55: 1.6}
RR_P25 = {52: 2.0, 53: 18.0, 54: 55.0, 55: 5.0, 56: 0.5}
RR_P26 = {21: 0.8, 56: 2.0}
RR_P27 = {24: 2.4}
RR_P28 = {}
RR_P29 = {29: 3.3, 30: 4.7, 31: 0.5, 55: 1.0, 56: 5.8, 57: 1.0}
RR_P30 = {}

PERT_T850 = [T850_P01, T850_P02, T850_P03, T850_P04, T850_P05, T850_P06, T850_P07, T850_P08,
             T850_P09, T850_P10, T850_P11, T850_P12, T850_P13, T850_P14, T850_P15, T850_P16,
             T850_P17, T850_P18, T850_P19, T850_P20, T850_P21, T850_P22, T850_P23, T850_P24,
             T850_P25, T850_P26, T850_P27, T850_P28, T850_P29, T850_P30]
PERT_T500 = [T500_P01, T500_P02, T500_P03, T500_P04, T500_P05, T500_P06, T500_P07, T500_P08,
             T500_P09, T500_P10, T500_P11, T500_P12, T500_P13, T500_P14, T500_P15, T500_P16,
             T500_P17, T500_P18, T500_P19, T500_P20, T500_P21, T500_P22, T500_P23, T500_P24,
             T500_P25, T500_P26, T500_P27, T500_P28, T500_P29, T500_P30]
PERT_RR = [RR_P01, RR_P02, RR_P03, RR_P04, RR_P05, RR_P06, RR_P07, RR_P08, RR_P09, RR_P10,
           RR_P11, RR_P12, RR_P13, RR_P14, RR_P15, RR_P16, RR_P17, RR_P18, RR_P19, RR_P20,
           RR_P21, RR_P22, RR_P23, RR_P24, RR_P25, RR_P26, RR_P27, RR_P28, RR_P29, RR_P30]

# page geometry (pixels)
W, H = 740, 700
ML, MR, MT, MB = 50, 50, 0, 100


def fx(px):
    return (px - ML) / (W - ML - MR)


def fy(py):
    return (H - MB - py) / (H - MT - MB)


def rr_series(events):
    vals = [None] + [0.0] * (len(TIMES) - 1)
    for k, v in events.items():
        vals[k] = v
    return vals


def pert_line(y, color, axis="y"):
    return go.Scatter(x=TIMES, y=y, yaxis=axis, mode="lines+markers",
                      line=dict(color=color, width=1),
                      marker=dict(symbol="cross-thin", size=3, color=color,
                                  line=dict(width=1, color=color)),
                      hoverinfo="skip", showlegend=False)


def main_line(y, color, width, axis="y"):
    return go.Scatter(x=TIMES, y=y, yaxis=axis, mode="lines",
                      line=dict(color=color, width=width),
                      hoverinfo="skip", showlegend=False)


def text(x, y, s, size=10, color="black", anchor="left", family=MONO):
    return dict(x=fx(x), y=fy(y), xref="paper", yref="paper", text=s, showarrow=False,
                xanchor=anchor, yanchor="middle", font=dict(family=family, size=size, color=color))


def hline(x0, x1, y, color, width):
    return dict(type="line", xref="paper", yref="paper", x0=fx(x0), x1=fx(x1), y0=fy(y), y1=fy(y),
                line=dict(color=color, width=width))


data = []
for k in range(30):
    data.append(pert_line(PERT_T850[k], PERT_COLORS[k]))
    data.append(pert_line(PERT_T500[k], PERT_COLORS[k]))
data.append(main_line(CTRL_T850, "#0000ff", 3))
data.append(main_line(CTRL_T500, "#0000ff", 3))
data.append(main_line(GFS_T850, "black", 3))
data.append(main_line(GFS_T500, "black", 3))
data.append(main_line(MEAN_T850, "#ff0000", 4.5))
data.append(main_line(MEAN_T500, "#ff0000", 4.5))
for k in range(30):
    data.append(pert_line(rr_series(PERT_RR[k]), PERT_COLORS[k], "y2"))
data.append(main_line(rr_series(CTRL_RR), "#0000ff", 3, "y2"))
data.append(main_line(rr_series(GFS_RR), "black", 3, "y2"))
data.append(main_line(MEAN_RR, "#ff0000", 4.5, "y2"))

fig = go.Figure(data=data)

# temperature ranges so that 0 sits at y=232 px and 5 deg = 35 px
t_range = [-(H - MB - 232) / 7.0, 232 / 7.0]
r_range = [-(H - MB - 547) / 7.0, 547 / 7.0]
t_ticks = list(range(-45, 31, 5))
t_text = [str(v) + "\u00a0" * (3 - len(str(v))) for v in t_ticks]

fig.update_layout(
    width=W, height=H,
    margin=dict(l=ML, r=MR, t=MT, b=MB, pad=0),
    paper_bgcolor="white", plot_bgcolor="white",
    showlegend=False,
    font=dict(family=MONO, size=10, color="black"),
    xaxis=dict(type="date", range=[TIMES[0], TIMES[-1]], tick0="2026-08-27", dtick=86400000,
               tickformat="%d/%m", tickangle=-90, ticks="", ticklabelshift=7,
               ticklabelstandoff=-4, showgrid=True, gridcolor=GRID, gridwidth=1,
               showline=True, linecolor="black", linewidth=1, zeroline=False,
               tickfont=dict(family=MONO, size=10)),
    yaxis=dict(range=t_range, tickvals=t_ticks, ticktext=t_text, ticks="",
               ticklabelstandoff=10, showgrid=True, gridcolor=GRID, gridwidth=1,
               showline=True, linecolor="black", linewidth=1, zeroline=False,
               tickfont=dict(family=MONO, size=10)),
    yaxis2=dict(overlaying="y", side="right", range=r_range, tickvals=list(range(0, 76, 5)),
                ticks="", ticklabelstandoff=17, showgrid=False, showline=True,
                linecolor="black", linewidth=1, zeroline=False,
                tickfont=dict(family=MONO, size=10)),
    yaxis3=dict(overlaying="y", range=t_range, tickvals=list(range(-40, 31, 10)),
                showticklabels=False, ticks="", showgrid=True, gridcolor=GRID, gridwidth=2.5,
                zeroline=True, zerolinecolor="#a8a8a8", zerolinewidth=3, showline=False),
)

notes = [
    text(60, 63, "Temp. 850hPa"),
    text(60, 266, "Temp. 500hPa"),
    text(60, 534, "Précipitations"),
    text(20, 607, "(°c)"),
    text(9, 623, "Alt. 381m"),
    text(705, 607, "(mm)"),
    text(74, 637, "Moyenne des scénarios"),
    text(263, 636, "Run de contrôle"),
    text(263, 647, "Run GFS"),
    text(52, 658, "❄", size=13, color="#4aa8e0", family="DejaVu Sans"),
    text(74, 659, "Risque neige"),
    text(338, 652, "30 Perts."),
    text(28, 677, "<b>Diagramme des ensembles GEFS sur 384h : 40.3N 0.1E</b>", size=11.5),
    text(28, 692, "Températures 850hPa et 500hPa (°C) , précipitations (mm)"),
    text(448, 675, "Ensemble GEFS du 26/08/2026 - 12Z"),
    text(448, 692, "<b>Copyright 2026 Meteociel.fr</b>", size=11.5),
]
shapes = [
    hline(35, 65, 637, "#ff0000", 4),
    hline(225, 256, 637, "#0000ff", 4),
    hline(225, 256, 647, "black", 4),
    dict(type="rect", xref="paper", yref="paper", x0=fx(20), x1=fx(440), y0=fy(667), y1=fy(698),
         line=dict(color="black", width=1.5), fillcolor="white", layer="below"),
]
for k in range(30):
    x0 = 400 + 11 * k
    shapes.append(dict(type="rect", xref="paper", yref="paper", x0=fx(x0), x1=fx(x0 + 10),
                       y0=fy(648), y1=fy(655), line=dict(width=0), fillcolor=PERT_COLORS[k]))
    notes.append(text(x0 + 5, 643, "<b>" + PERT_NAMES[k] + "</b>", size=8, anchor="center"))

fig.update_layout(annotations=notes, shapes=shapes)

# the page has a default 8px body margin; drop it so the figure sits at the window corner
fig.write_html("out.html", config={"displayModeBar": False},
               post_script="document.body.style.margin = '0';")
